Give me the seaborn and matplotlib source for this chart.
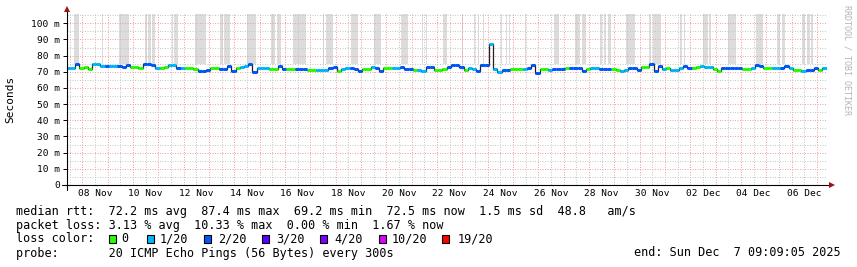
import numpy as np
import pandas as pd
import matplotlib
matplotlib.use("Agg")
import matplotlib.pyplot as plt
import matplotlib.dates as mdates
from matplotlib.patches import Rectangle
from matplotlib.ticker import MultipleLocator, FuncFormatter
import seaborn as sns

# ---------------- data ----------------
START = pd.Timestamp("2025-11-07 09:09:05")
END = pd.Timestamp("2025-12-07 09:09:05")
STEP_H = 4

median_ms = [
    72.1, 72.1, 74.8, 72.5, 72.8, 72.0, 74.8, 74.6, 73.6, 73.5,
    73.4, 73.5, 73.3, 73.2, 74.5, 72.8, 72.8, 72.6, 74.6, 74.6,
    74.4, 72.6, 72.6, 72.8, 74.2, 74.0, 72.6, 72.6, 72.1, 72.1,
    71.8, 70.7, 70.6, 70.9, 72.1, 72.2, 71.6, 71.6, 73.5, 70.7,
    72.1, 73.0, 73.3, 74.6, 70.1, 72.1, 72.1, 72.3, 71.5, 72.0,
    73.7, 71.6, 71.6, 71.8, 71.8, 71.5, 71.5, 71.1, 71.1, 71.1,
    71.1, 71.2, 72.3, 73.0, 70.6, 71.6, 72.5, 72.5, 71.6, 70.5,
    71.6, 71.8, 73.2, 72.5, 70.3, 72.1, 72.2, 72.5, 72.6, 73.2,
    71.6, 71.6, 71.1, 71.1, 70.8, 73.2, 73.2, 71.1, 71.3, 72.0,
    73.0, 73.9, 73.9, 73.2, 71.1, 72.1, 72.0, 70.5, 73.9, 73.9,
    87.4, 71.5, 70.1, 71.1, 71.1, 71.5, 71.5, 71.6, 71.8, 72.1,
    74.2, 69.2, 71.6, 71.6, 71.3, 71.6, 71.6, 71.8, 72.5, 72.5,
    72.5, 72.3, 70.3, 71.6, 72.1, 72.1, 71.8, 71.6, 71.6, 71.6,
    71.4, 70.6, 71.1, 72.1, 72.1, 71.1, 73.2, 73.2, 74.6, 70.5,
    73.5, 71.6, 72.5, 71.3, 71.1, 72.1, 73.6, 72.1, 72.5, 72.8,
    73.4, 73.2, 73.2, 72.0, 70.7, 72.5, 72.5, 72.5, 72.5, 72.4,
    71.6, 71.8, 72.1, 74.2, 73.4, 72.1, 72.2, 72.1, 72.1, 72.1,
    73.3, 72.1, 71.1, 71.0, 70.7, 71.1, 71.1, 72.1, 71.1, 72.1,
]

loss_of_20 = [
    1, 1, 2, 0, 0, 0, 1, 1, 1, 2,
    1, 1, 2, 2, 2, 0, 0, 0, 2, 2,
    2, 1, 0, 0, 1, 1, 2, 1, 0, 0,
    0, 2, 2, 2, 0, 0, 2, 2, 2, 2,
    0, 1, 1, 2, 2, 1, 1, 1, 0, 0,
    2, 2, 0, 0, 2, 2, 2, 0, 0, 1,
    1, 1, 2, 2, 0, 1, 1, 2, 2, 2,
    0, 0, 1, 2, 2, 0, 0, 1, 1, 2,
    2, 2, 0, 1, 1, 2, 2, 0, 0, 0,
    2, 2, 2, 2, 0, 1, 1, 2, 2, 2,
    1, 1, 1, 2, 2, 0, 0, 0, 1, 2,
    2, 2, 0, 0, 1, 2, 2, 2, 0, 2,
    2, 2, 2, 0, 1, 1, 2, 2, 2, 0,
    0, 1, 1, 2, 2, 2, 0, 0, 2, 2,
    2, 1, 0, 1, 1, 1, 2, 2, 0, 0,
    1, 1, 1, 0, 0, 2, 2, 2, 2, 2,
    0, 0, 1, 2, 2, 0, 0, 1, 1, 2,
    2, 1, 0, 0, 1, 2, 2, 2, 0, 1,
]

# smoke (ping spread reaching beyond the top), hours after START
smoke_start_h = [7.2, 33.2, 49.8, 74.2, 76.7, 81.1, 99.6, 101.8, 121.6, 145.3,
                 149.0, 170.8, 194.0, 199.5, 214.7, 242.6, 245.7, 250.4, 269.4, 291.2,
                 316.8, 336.8, 340.6, 356.9, 374.5, 385.9, 389.7, 394.4, 411.5, 415.8,
                 419.1, 434.2, 462.0, 481.9, 488.3, 505.6, 508.8, 513.0, 530.2, 551.7,
                 555.5, 581.4, 585.2, 603.2, 608.6, 626.3, 652.8, 672.7, 677.5, 697.0,
                 701.1, 705.2]
smoke_dur_h = [4.5, 1.0, 8.9, 1.4, 2.7, 2.1, 1.5, 3.8, 10.4, 2.4,
               5.7, 8.5, 3.3, 3.6, 12.3, 1.0, 4.5, 1.9, 6.6, 6.6,
               6.6, 1.0, 1.0, 3.8, 1.0, 1.0, 1.0, 1.0, 1.0, 1.0,
               1.0, 1.0, 4.2, 4.5, 3.8, 1.6, 2.5, 2.2, 8.2, 1.9,
               7.6, 1.6, 1.0, 4.2, 1.9, 7.9, 7.2, 3.1, 3.1, 2.6,
               3.1, 2.2]
SMOKE_LOW_MS = 74.8
SMOKE_HIGH_MS = 120.0

loss_bins = [0, 1, 2, 3, 4, 10, 19]
loss_labels = ["0", "1/20", "2/20", "3/20", "4/20", "10/20", "19/20"]
loss_colors = ["#26ff00", "#00b8ff", "#0059ff", "#5e00ff", "#7e00ff", "#dd00ff", "#ff0000"]

stats_lines = [
    "median rtt:  72.2 ms avg  87.4 ms max  69.2 ms min  72.5 ms now  1.5 ms sd  48.8   am/s",
    "packet loss: 3.13 % avg  10.33 % max  0.00 % min  1.67 % now",
]
probe_text = "probe:       20 ICMP Echo Pings (56 Bytes) every 300s"
end_text = "end: Sun Dec  7 09:09:05 2025"

# ---------------- figure ----------------
sns.set_theme(style="white")
plt.rcParams["font.family"] = ["DejaVu Sans Mono", "DejaVu Sans"]

W, H = 857, 267
fig = plt.figure(figsize=(W / 100, H / 100), dpi=100, facecolor="white")

def fx(x):
    return x / W

def fy(y):
    return 1 - y / H

ax_l, ax_r, ax_b, ax_t = 66.7, 826.7, 185.0, 14.4
ax = fig.add_axes([fx(ax_l), fy(ax_b), fx(ax_r - ax_l), (ax_b - ax_t) / H])
ax.set_facecolor("white")

n = len(median_ms)
times = pd.date_range(START, periods=n, freq=f"{STEP_H}h")
tnum = mdates.date2num(times.to_pydatetime())
step_d = STEP_H / 24.0
med_s = np.array(median_ms) / 1000.0

def loss_color(l):
    c = loss_colors[0]
    for b, col in zip(loss_bins, loss_colors):
        if l >= b:
            c = col
    return c

cols = [loss_color(l) for l in loss_of_20]

# smoke
s_start = mdates.date2num((START + pd.to_timedelta(smoke_start_h, unit="h")).to_pydatetime())
s_w = np.array(smoke_dur_h) / 24.0
ax.bar(s_start, (SMOKE_HIGH_MS - SMOKE_LOW_MS) / 1000.0, bottom=SMOKE_LOW_MS / 1000.0,
       width=s_w, align="edge", color="#dcdcdc", linewidth=0, zorder=1)

# median: thin dark step line, then loss-coloured segments
df = pd.DataFrame({"t": np.append(tnum, tnum[-1] + step_d),
                   "v": np.append(med_s, med_s[-1])})
sns.lineplot(data=df, x="t", y="v", drawstyle="steps-post", color="#202020",
             linewidth=0.9, estimator=None, ax=ax, zorder=3)
ax.hlines(med_s, tnum, tnum + step_d, colors=cols, linewidth=2.2, zorder=4,
          capstyle="butt")

# limits / grid
ax.set_xlim(mdates.date2num(START.to_pydatetime()), mdates.date2num(END.to_pydatetime()))
ax.set_ylim(0, 0.1055)
ax.set_xlabel("")
ax.set_ylabel("")

ax.yaxis.set_major_locator(MultipleLocator(0.01))
ax.yaxis.set_minor_locator(MultipleLocator(0.005))
ax.yaxis.set_major_formatter(FuncFormatter(lambda v, p: "0" if abs(v) < 1e-9 else f"{v * 1000:.0f} m"))

ax.xaxis.set_major_locator(mdates.DayLocator())
ax.xaxis.set_major_formatter(FuncFormatter(lambda v, p: ""))
ax.xaxis.set_minor_locator(mdates.HourLocator(byhour=[12]))
def xlab(v, p):
    d = mdates.num2date(v)
    return d.strftime("%d %b") if d.day % 2 == 0 else ""
ax.xaxis.set_minor_formatter(FuncFormatter(xlab))

ax.set_axisbelow(False)
ax.grid(which="major", color="#f2a2a2", linestyle=(0, (1, 1.5)), linewidth=0.72)
ax.grid(which="minor", color="#c6c6c6", linestyle=(0, (1, 1.5)), linewidth=0.72)
for gl in ax.get_xgridlines() + ax.get_ygridlines():
    gl.set_zorder(2)

ax.tick_params(axis="y", which="major", length=3, width=0.7, color="black",
               labelsize=6.8, pad=1.8, labelcolor="black", left=True)
ax.tick_params(axis="y", which="minor", length=0)
ax.tick_params(axis="x", which="major", length=0)
ax.tick_params(axis="x", which="minor", length=0, labelsize=6.8, pad=3.2, labelcolor="black")

for s in ax.spines.values():
    s.set_visible(False)

# axis lines with arrows
dx = 1.0 / (ax_r - ax_l)
dy = 1.0 / (ax_b - ax_t)
ax.plot([-5 * dx, 1 + 4 * dx], [0, 0], color="black", lw=0.8, transform=ax.transAxes,
        clip_on=False, zorder=5)
ax.plot([0, 0], [-5 * dy, 1 + 3 * dy], color="black", lw=0.8, transform=ax.transAxes,
        clip_on=False, zorder=5)
ax.plot([1 + 5 * dx], [0], marker=">", markersize=4, color="#a01010", transform=ax.transAxes,
        clip_on=False, zorder=6, markeredgewidth=0)
ax.plot([0], [1 + 5 * dy], marker="^", markersize=4, color="#a01010", transform=ax.transAxes,
        clip_on=False, zorder=6, markeredgewidth=0)

# y axis title and watermark
fig.text(fx(10.7), fy(99), "Seconds", rotation=90, ha="center", va="center",
         fontsize=8, color="black")
fig.text(fx(847.5), fy(5), "RRDTOOL / TOBI OETIKER", rotation=270, ha="center", va="top",
         fontsize=6, color="#b4b4b4")

# legend / stats text
FS = 8.45
fig.text(fx(16), fy(211), stats_lines[0], ha="left", va="center", fontsize=FS, color="black")
fig.text(fx(16), fy(225), stats_lines[1], ha="left", va="center", fontsize=FS, color="black")
fig.text(fx(16), fy(239), "loss color:", ha="left", va="center", fontsize=FS, color="black")
sq_x = [109, 147, 203.7, 262, 320, 379, 442.3]
lab_x = [121, 160, 218, 276, 334, 392, 457.7]
for sx, lx, lab, col in zip(sq_x, lab_x, loss_labels, loss_colors):
    fig.patches.append(Rectangle((fx(sx), fy(243.3)), 7 / W, 8 / H, transform=fig.transFigure,
                                 facecolor=col, edgecolor="black", linewidth=0.8))
    fig.text(fx(lx), fy(239), lab, ha="left", va="center", fontsize=FS, color="black")
fig.text(fx(16), fy(253), probe_text, ha="left", va="center", fontsize=FS, color="black")
fig.text(fx(841), fy(253), end_text, ha="right", va="center", fontsize=FS, color="black")

fig.savefig("out.png", dpi=100, facecolor="white")
